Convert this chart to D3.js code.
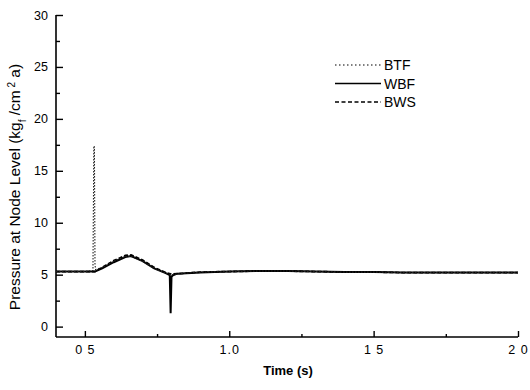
<!DOCTYPE html>
<html>
<head>
<meta charset="utf-8">
<script src="https://cdn.jsdelivr.net/npm/d3@7"></script>
<style>
  body { margin: 0; background: #fff; }
  svg { display: block; font-family: Arial, "Liberation Sans", sans-serif; }
</style>
</head>
<body>
<div id="chart"></div>
<script>
const xMajor = [0.5, 1.0, 1.5, 2.0];
const xMajorLabels = ['0 5', '1.0', '1 5', '2 0'];
const xMinor = [0.75, 1.25, 1.75];
const yMajor = [0, 5, 10, 15, 20, 25, 30];
const yMinor = [2.5, 7.5, 12.5, 17.5, 22.5, 27.5];

// BTF (dotted) - spike at valve closure
const timeBTF = [0.40, 0.50, 0.528, 0.531, 0.533, 0.535, 0.537, 0.56, 0.60, 0.64, 0.66, 0.70, 0.74, 0.78, 0.80, 0.85, 0.90, 1.00, 1.10, 1.20, 1.30, 1.40, 1.50, 1.60, 1.70, 1.80, 1.90, 2.00];
const pressureBTF = [5.3, 5.3, 5.4, 17.4, 17.3, 6.0, 5.5, 5.7, 6.3, 6.75, 6.75, 6.3, 5.6, 5.15, 5.0, 5.15, 5.25, 5.3, 5.35, 5.35, 5.3, 5.25, 5.25, 5.2, 5.2, 5.2, 5.2, 5.2];

// WBF (solid) - dip near 0.8 s
const timeWBF = [0.40, 0.50, 0.535, 0.56, 0.60, 0.64, 0.66, 0.70, 0.74, 0.78, 0.794, 0.797, 0.800, 0.805, 0.82, 0.90, 1.00, 1.10, 1.20, 1.30, 1.40, 1.50, 1.60, 1.70, 1.80, 1.90, 2.00];
const pressureWBF = [5.3, 5.3, 5.3, 5.6, 6.2, 6.7, 6.8, 6.3, 5.6, 5.15, 4.95, 1.3, 4.8, 4.95, 5.1, 5.2, 5.3, 5.35, 5.35, 5.3, 5.25, 5.25, 5.2, 5.2, 5.2, 5.2, 5.2];

// BWS (dashed)
const timeBWS = [0.40, 0.50, 0.535, 0.56, 0.60, 0.64, 0.66, 0.70, 0.74, 0.78, 0.80, 0.85, 0.90, 1.00, 1.10, 1.20, 1.30, 1.40, 1.50, 1.60, 1.70, 1.80, 1.90, 2.00];
const pressureBWS = [5.3, 5.3, 5.3, 5.7, 6.35, 6.85, 6.9, 6.4, 5.7, 5.2, 5.05, 5.15, 5.25, 5.3, 5.35, 5.35, 5.3, 5.25, 5.25, 5.2, 5.2, 5.2, 5.2, 5.2];

const legendNames = ['BTF', 'WBF', 'BWS'];

const width = 530, height = 390;
const margin = { top: 15, right: 12, bottom: 53, left: 56 };
const w = width - margin.left - margin.right;
const h = height - margin.top - margin.bottom;

const svg = d3.select('#chart').append('svg')
  .attr('width', width)
  .attr('height', height);

const g = svg.append('g')
  .attr('transform', `translate(${margin.left},${margin.top})`);

const x = d3.scaleLinear().domain([0.4, 2.0]).range([0, w]);
const y = d3.scaleLinear().domain([-1, 30]).range([h, 0]);

// X axis
const xAxis = g.append('g')
  .attr('transform', `translate(0,${h})`)
  .call(d3.axisBottom(x).tickValues(xMajor).tickSize(-6).tickPadding(8)
    .tickFormat((d, i) => xMajorLabels[i]));
xAxis.select('.domain').attr('d', `M0,0H${w}`).attr('stroke-width', 1.6);
xAxis.selectAll('.tick text').style('letter-spacing', '1px');
g.append('g')
  .attr('transform', `translate(0,${h})`)
  .call(d3.axisBottom(x).tickValues(xMinor).tickSize(-3).tickFormat(''))
  .select('.domain').remove();

// Y axis
const yAxis = g.append('g')
  .call(d3.axisLeft(y).tickValues(yMajor).tickSize(-7).tickPadding(8));
yAxis.select('.domain').attr('d', `M0,${h}V${y(30)}`).attr('stroke-width', 1.6);
g.append('g')
  .call(d3.axisLeft(y).tickValues(yMinor).tickSize(-4).tickFormat(''))
  .select('.domain').remove();

g.selectAll('.tick line').attr('stroke', '#000').attr('stroke-width', 1.4);
g.selectAll('.tick text').attr('fill', '#000').style('font-size', '12.5px');

// Lines
const line = (ts, ps) => d3.line()
  .x((d, i) => x(ts[i]))
  .y(d => y(d))(ps);

g.append('path')
  .attr('d', line(timeBWS, pressureBWS))
  .attr('fill', 'none')
  .attr('stroke', '#000')
  .attr('stroke-width', 1.8)
  .attr('stroke-dasharray', '4,2');

g.append('path')
  .attr('d', line(timeWBF, pressureWBF))
  .attr('fill', 'none')
  .attr('stroke', '#000')
  .attr('stroke-width', 2);

g.append('path')
  .attr('d', line(timeBTF, pressureBTF))
  .attr('fill', 'none')
  .attr('stroke', '#222')
  .attr('stroke-width', 1.1)
  .attr('stroke-dasharray', '1.5,1.5');

// Legend
const legendStyles = [
  { dash: '1.5,2.5', sw: 1.1 },
  { dash: null, sw: 1.6 },
  { dash: '4,2.5', sw: 1.6 }
];
const legend = svg.append('g').attr('transform', 'translate(335,65)');
legendNames.forEach((name, i) => {
  const row = legend.append('g').attr('transform', `translate(0,${i * 18.5})`);
  row.append('line')
    .attr('x1', 0).attr('x2', 46)
    .attr('stroke', '#000')
    .attr('stroke-width', legendStyles[i].sw)
    .attr('stroke-dasharray', legendStyles[i].dash);
  row.append('text')
    .attr('x', 49).attr('y', 5)
    .style('font-size', '14px')
    .attr('fill', '#000')
    .text(name);
});

// Axis titles
svg.append('text')
  .attr('x', 288).attr('y', 375)
  .attr('text-anchor', 'middle')
  .style('font-size', '13px')
  .style('font-weight', 'bold')
  .attr('fill', '#000')
  .text('Time (s)');

const yTitle = svg.append('text')
  .attr('transform', 'translate(20,187) rotate(-90)')
  .attr('text-anchor', 'middle')
  .style('font-size', '15.5px')
  .attr('fill', '#000');
yTitle.append('tspan').text('Pressure at Node Level (kg');
yTitle.append('tspan').attr('baseline-shift', 'sub').style('font-size', '10px').text('f');
yTitle.append('tspan').text(' /cm');
yTitle.append('tspan').attr('baseline-shift', 'super').style('font-size', '10px').text(' 2');
yTitle.append('tspan').text(' a)');
</script>
</body>
</html>
